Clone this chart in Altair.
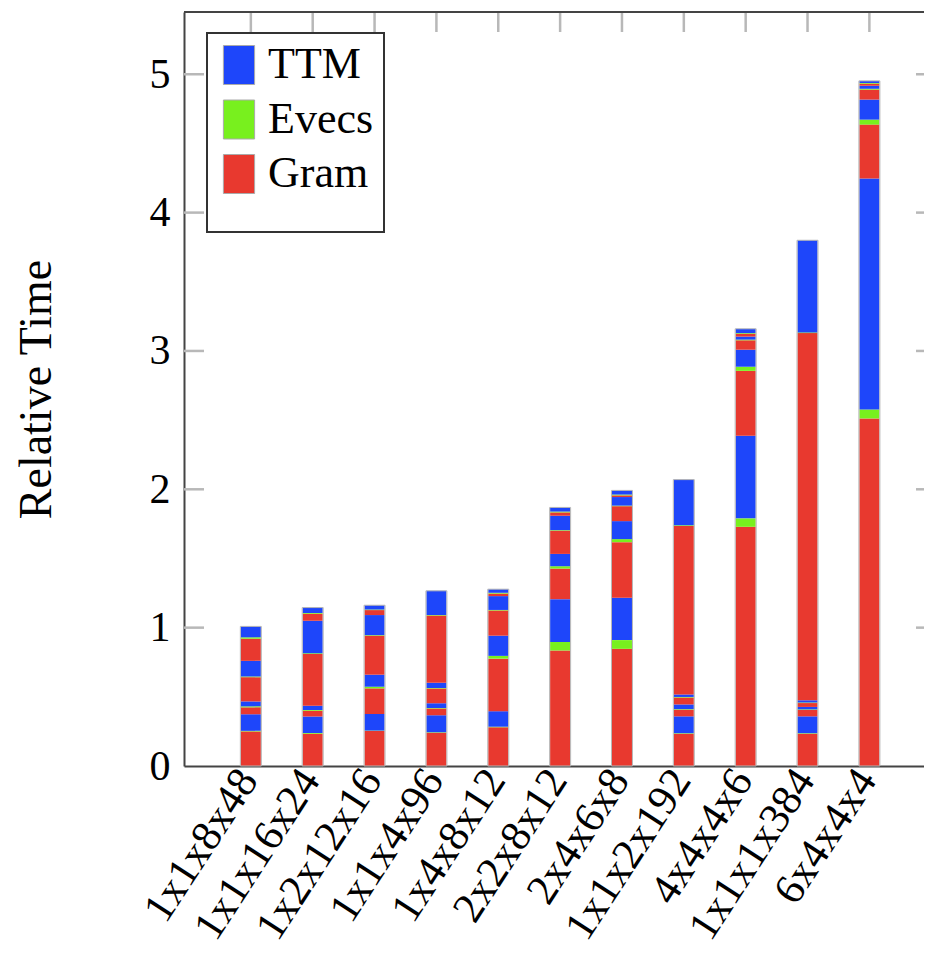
import altair as alt
import pandas as pd

configs = ["1x1x8x48", "1x1x16x24", "1x2x12x16", "1x1x4x96", "1x4x8x12",
           "2x2x8x12", "2x4x6x8", "1x1x2x192", "4x4x4x6", "1x1x1x384", "6x4x4x4"]

# per bar, per mode (bottom to top): Gram, Evecs, TTM
gram = [
    [0.250, 0.050, 0.175, 0.160],
    [0.234, 0.043, 0.375, 0.050],
    [0.253, 0.185, 0.282, 0.036],
    [0.240, 0.050, 0.106, 0.486],
    [0.280, 0.380, 0.182, 0.018],
    [0.835, 0.221, 0.168, 0.024],
    [0.847, 0.402, 0.108, 0.012],
    [0.233, 0.048, 0.050, 1.218],
    [1.729, 0.469, 0.068, 0.020],
    [0.233, 0.046, 0.028, 2.654],
    [2.512, 0.390, 0.072, 0.015],
]
evecs = [
    [0.004, 0.007, 0.005, 0.010],
    [0.005, 0.005, 0.005, 0.005],
    [0.003, 0.012, 0.004, 0.004],
    [0.004, 0.003, 0.003, 0.004],
    [0.004, 0.020, 0.004, 0.006],
    [0.062, 0.017, 0.004, 0.006],
    [0.063, 0.022, 0.004, 0.006],
    [0.004, 0.004, 0.004, 0.005],
    [0.061, 0.030, 0.005, 0.005],
    [0.004, 0.004, 0.004, 0.005],
    [0.065, 0.036, 0.006, 0.005],
]
ttm = [
    [0.120, 0.036, 0.113, 0.079],
    [0.118, 0.030, 0.235, 0.040],
    [0.120, 0.087, 0.145, 0.031],
    [0.122, 0.035, 0.038, 0.175],
    [0.112, 0.146, 0.100, 0.026],
    [0.309, 0.089, 0.104, 0.030],
    [0.306, 0.130, 0.062, 0.030],
    [0.122, 0.034, 0.018, 0.330],
    [0.597, 0.123, 0.022, 0.031],
    [0.122, 0.018, 0.016, 0.666],
    [1.669, 0.145, 0.022, 0.015],
]

components = ["TTM", "Evecs", "Gram"]
comp_colors = ["#1e46fa", "#78f01e", "#e8392f"]
y_ticks = [0, 1, 2, 3, 4, 5]

FONT = "Liberation Serif"
W, H = 740, 754
XMAX = 740 / 62.7
YMAX = 5.45

rows = []
totals = []
for i, cfg in enumerate(configs):
    tot = 0.0
    for m in range(4):
        for k, (name, arr) in enumerate([("Gram", gram), ("Evecs", evecs), ("TTM", ttm)]):
            v = arr[i][m]
            tot += v
            rows.append({"config": cfg, "x": i + 1, "component": name,
                         "value": v, "order": m * 3 + k})
    totals.append({"config": cfg, "x": i + 1, "value": tot})
df = pd.DataFrame(rows)
tot_df = pd.DataFrame(totals)

xscale = alt.Scale(domain=[0, XMAX], nice=False, zero=False)
yscale = alt.Scale(domain=[0, YMAX], nice=False)

label_expr = "[" + ",".join("'%s'" % c for c in configs) + "][datum.value - 1]"

bars = alt.Chart(df).mark_bar(size=20, strokeWidth=0).encode(
    x=alt.X("x:Q", scale=xscale,
            axis=alt.Axis(values=list(range(1, len(configs) + 1)), labelExpr=label_expr,
                          labelAngle=303, labelAlign="right", labelBaseline="middle",
                          labelPadding=7, labelOffset=-3, labelLimit=500,
                          ticks=False, grid=False, title=None,
                          labelFont=FONT, labelFontSize=43, labelColor="black",
                          domainColor="#444444", domainWidth=2, labelOverlap=False)),
    y=alt.Y("value:Q", stack="zero", scale=yscale,
            axis=alt.Axis(values=y_ticks, format="d", ticks=False, grid=False, labelPadding=14,
                          labelFont=FONT, labelFontSize=42, labelColor="black",
                          domainColor="#444444", domainWidth=2,
                          title="Relative Time", titleFont=FONT, titleFontSize=46,
                          titleFontWeight="normal", titleColor="black",
                          titleAngle=270, titleBaseline="alphabetic", titleAlign="center",
                          titleX=-134, titleY=H / 2)),
    color=alt.Color("component:N",
                    scale=alt.Scale(domain=components, range=comp_colors),
                    legend=alt.Legend(orient="none", legendX=23, legendY=21,
                                      title=" ", titleOrient="bottom", titleFontSize=20,
                                      titlePadding=6,
                                      symbolType="M-0.8,-1H0.8V1H-0.8Z", symbolSize=1521,
                                      symbolStrokeColor="#aaaaaa", symbolStrokeWidth=1,
                                      symbolOpacity=1,
                                      labelFont=FONT, labelFontSize=44, labelColor="black",
                                      labelOffset=7, rowPadding=10.5, padding=10,
                                      strokeColor="#333333", fillColor="white")),
    order=alt.Order("order:Q", sort="ascending"),
)

outline = alt.Chart(tot_df).mark_bar(size=21, fillOpacity=0, stroke="#b5b5b5", strokeWidth=1).encode(
    x=alt.X("x:Q", scale=xscale),
    y=alt.Y("value:Q", scale=yscale),
)

tick_df = pd.DataFrame({"value": y_ticks[1:]})
left_ticks = alt.Chart(tick_df).mark_rule(color="#b8b8b8", strokeWidth=2.5).encode(
    y=alt.Y("value:Q", scale=yscale), x=alt.value(0), x2=alt.value(20))
right_ticks = alt.Chart(tick_df).mark_rule(color="#b8b8b8", strokeWidth=2.5).encode(
    y=alt.Y("value:Q", scale=yscale), x=alt.value(W - 8), x2=alt.value(W))

top_df = pd.DataFrame({"x": list(range(1, len(configs) + 1))})
top_ticks = alt.Chart(top_df).mark_rule(color="#b8b8b8", strokeWidth=2.5).encode(
    x=alt.X("x:Q", scale=xscale), y=alt.value(0), y2=alt.value(20))

frame_top = alt.Chart(pd.DataFrame({"a": [0]})).mark_rule(color="#444444", strokeWidth=2).encode(
    y=alt.value(0), x=alt.value(0), x2=alt.value(W))

chart = alt.layer(bars, outline, left_ticks, right_ticks, top_ticks, frame_top).properties(
    width=W, height=H,
    autosize=alt.AutoSizeParams(type="none"),
    padding={"left": 176, "top": 4, "right": 0, "bottom": 185},
).configure_view(stroke=None).configure_legend(strokeWidth=2)

chart.save("out.html", embed_options={"renderer": "svg", "actions": False})
